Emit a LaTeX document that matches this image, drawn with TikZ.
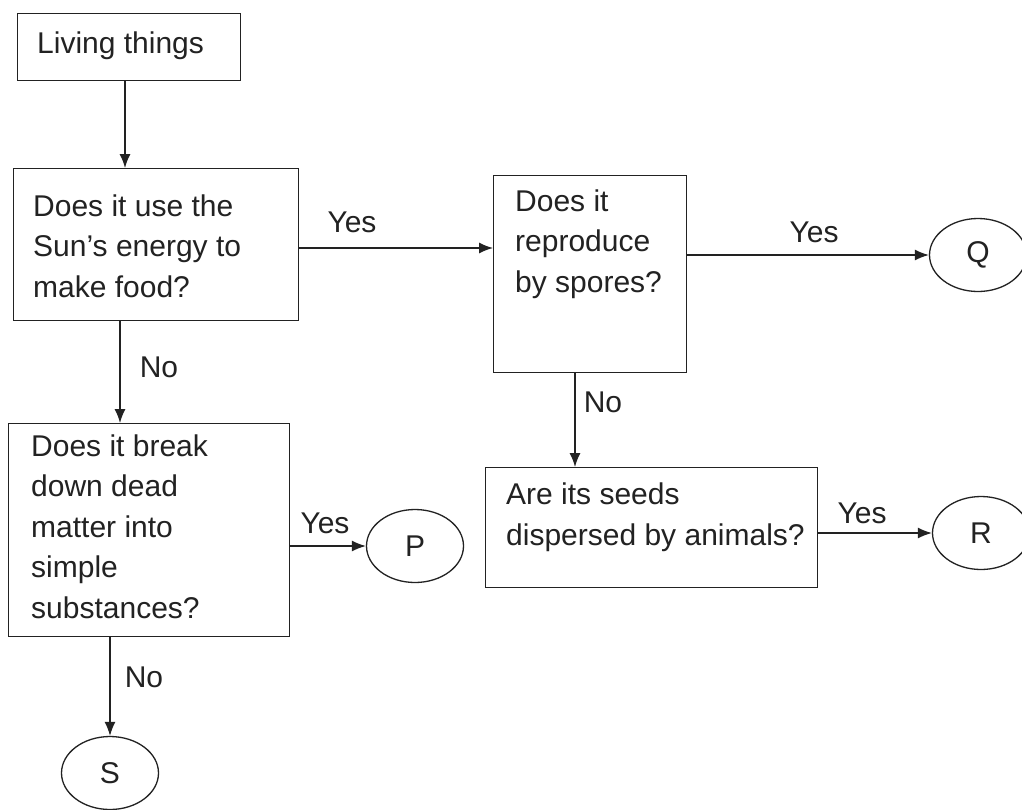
\documentclass[tikz,border=0pt]{standalone}
\usepackage{fontspec}
\setmainfont{Liberation Sans}
\usetikzlibrary{arrows.meta,shapes.geometric}
\definecolor{ink}{HTML}{222222}
\begin{document}
\begin{tikzpicture}[x=1pt,y=-1pt,
  every node/.style={text=ink},
  txt/.style={inner sep=0pt, anchor=base west, align=left, font=\fontsize{30}{40.5}\selectfont},
  lbl/.style={inner sep=0pt, font=\fontsize{30}{36}\selectfont},
  oval/.style={ellipse, draw=ink, line width=1.3pt, inner sep=0pt, minimum width=97pt, minimum height=73pt, font=\fontsize{30}{36}\selectfont},
  arr/.style={draw=ink, line width=1.3pt, -{Latex[length=14pt,width=11pt]}},
  box/.style={draw=ink, line width=1.3pt}
]
\useasboundingbox[fill=white] (0,0) rectangle (1022,809);

% boxes
\node[box, anchor=north west, minimum width=223pt, minimum height=67pt] (b1) at (17,13) {};
\node[box, anchor=north west, minimum width=285pt, minimum height=152pt] (b2) at (13,168) {};
\node[box, anchor=north west, minimum width=281pt, minimum height=213pt] (b3) at (8,423) {};
\node[box, anchor=north west, minimum width=193pt, minimum height=197pt] (b4) at (493,175) {};
\node[box, anchor=north west, minimum width=332pt, minimum height=120pt] (b5) at (485,467) {};

% texts (anchored at the baseline of their last line)
\node[txt] (t1) at (37,53) {Living things};
\node[txt] (t2) at (33,297) {Does it use the\\Sun’s energy to\\make food?};
\node[txt] (t3) at (31,618) {Does it break\\down dead\\matter into\\simple\\substances?};
\node[txt] (t4) at (515,292) {Does it\\reproduce\\by spores?};
\node[txt] (t5) at (506,545) {Are its seeds\\dispersed by animals?};

% end ovals
\node[oval] (Q) at (978,255) {Q};
\node[oval] (R) at (981,533) {R};
\node[oval] (P) at (415,546) {P};
\node[oval] (S) at (110,773) {S};

% guide coordinates
\coordinate (xa) at (125,0);
\coordinate (xb) at (120,0);
\coordinate (ya) at (0,248);
\coordinate (xc) at (575,0);

% connectors
\draw[arr] (b1.south -| xa) -- (b2.north -| xa);
\draw[arr] (b2.south -| xb) -- (b3.north -| xb);
\draw[arr] (b2.east |- ya) -- (b4.west |- ya);
\draw[arr] (b4.east |- Q.west) -- (Q.west);
\draw[arr] (b4.south -| xc) -- (b5.north -| xc);
\draw[arr] (b3.east |- P.west) -- (P.west);
\draw[arr] (b5.east |- R.west) -- (R.west);
\draw[arr] (S.north |- b3.south) -- (S.north);

% labels
\node[lbl] (l1) at (352,222) {Yes};
\node[lbl] (l2) at (159,367) {No};
\node[lbl] (l3) at (814,232) {Yes};
\node[lbl] (l4) at (603,402) {No};
\node[lbl] (l5) at (325,523) {Yes};
\node[lbl] (l6) at (862,513) {Yes};
\node[lbl] (l7) at (144,677) {No};
\end{tikzpicture}
\end{document}
